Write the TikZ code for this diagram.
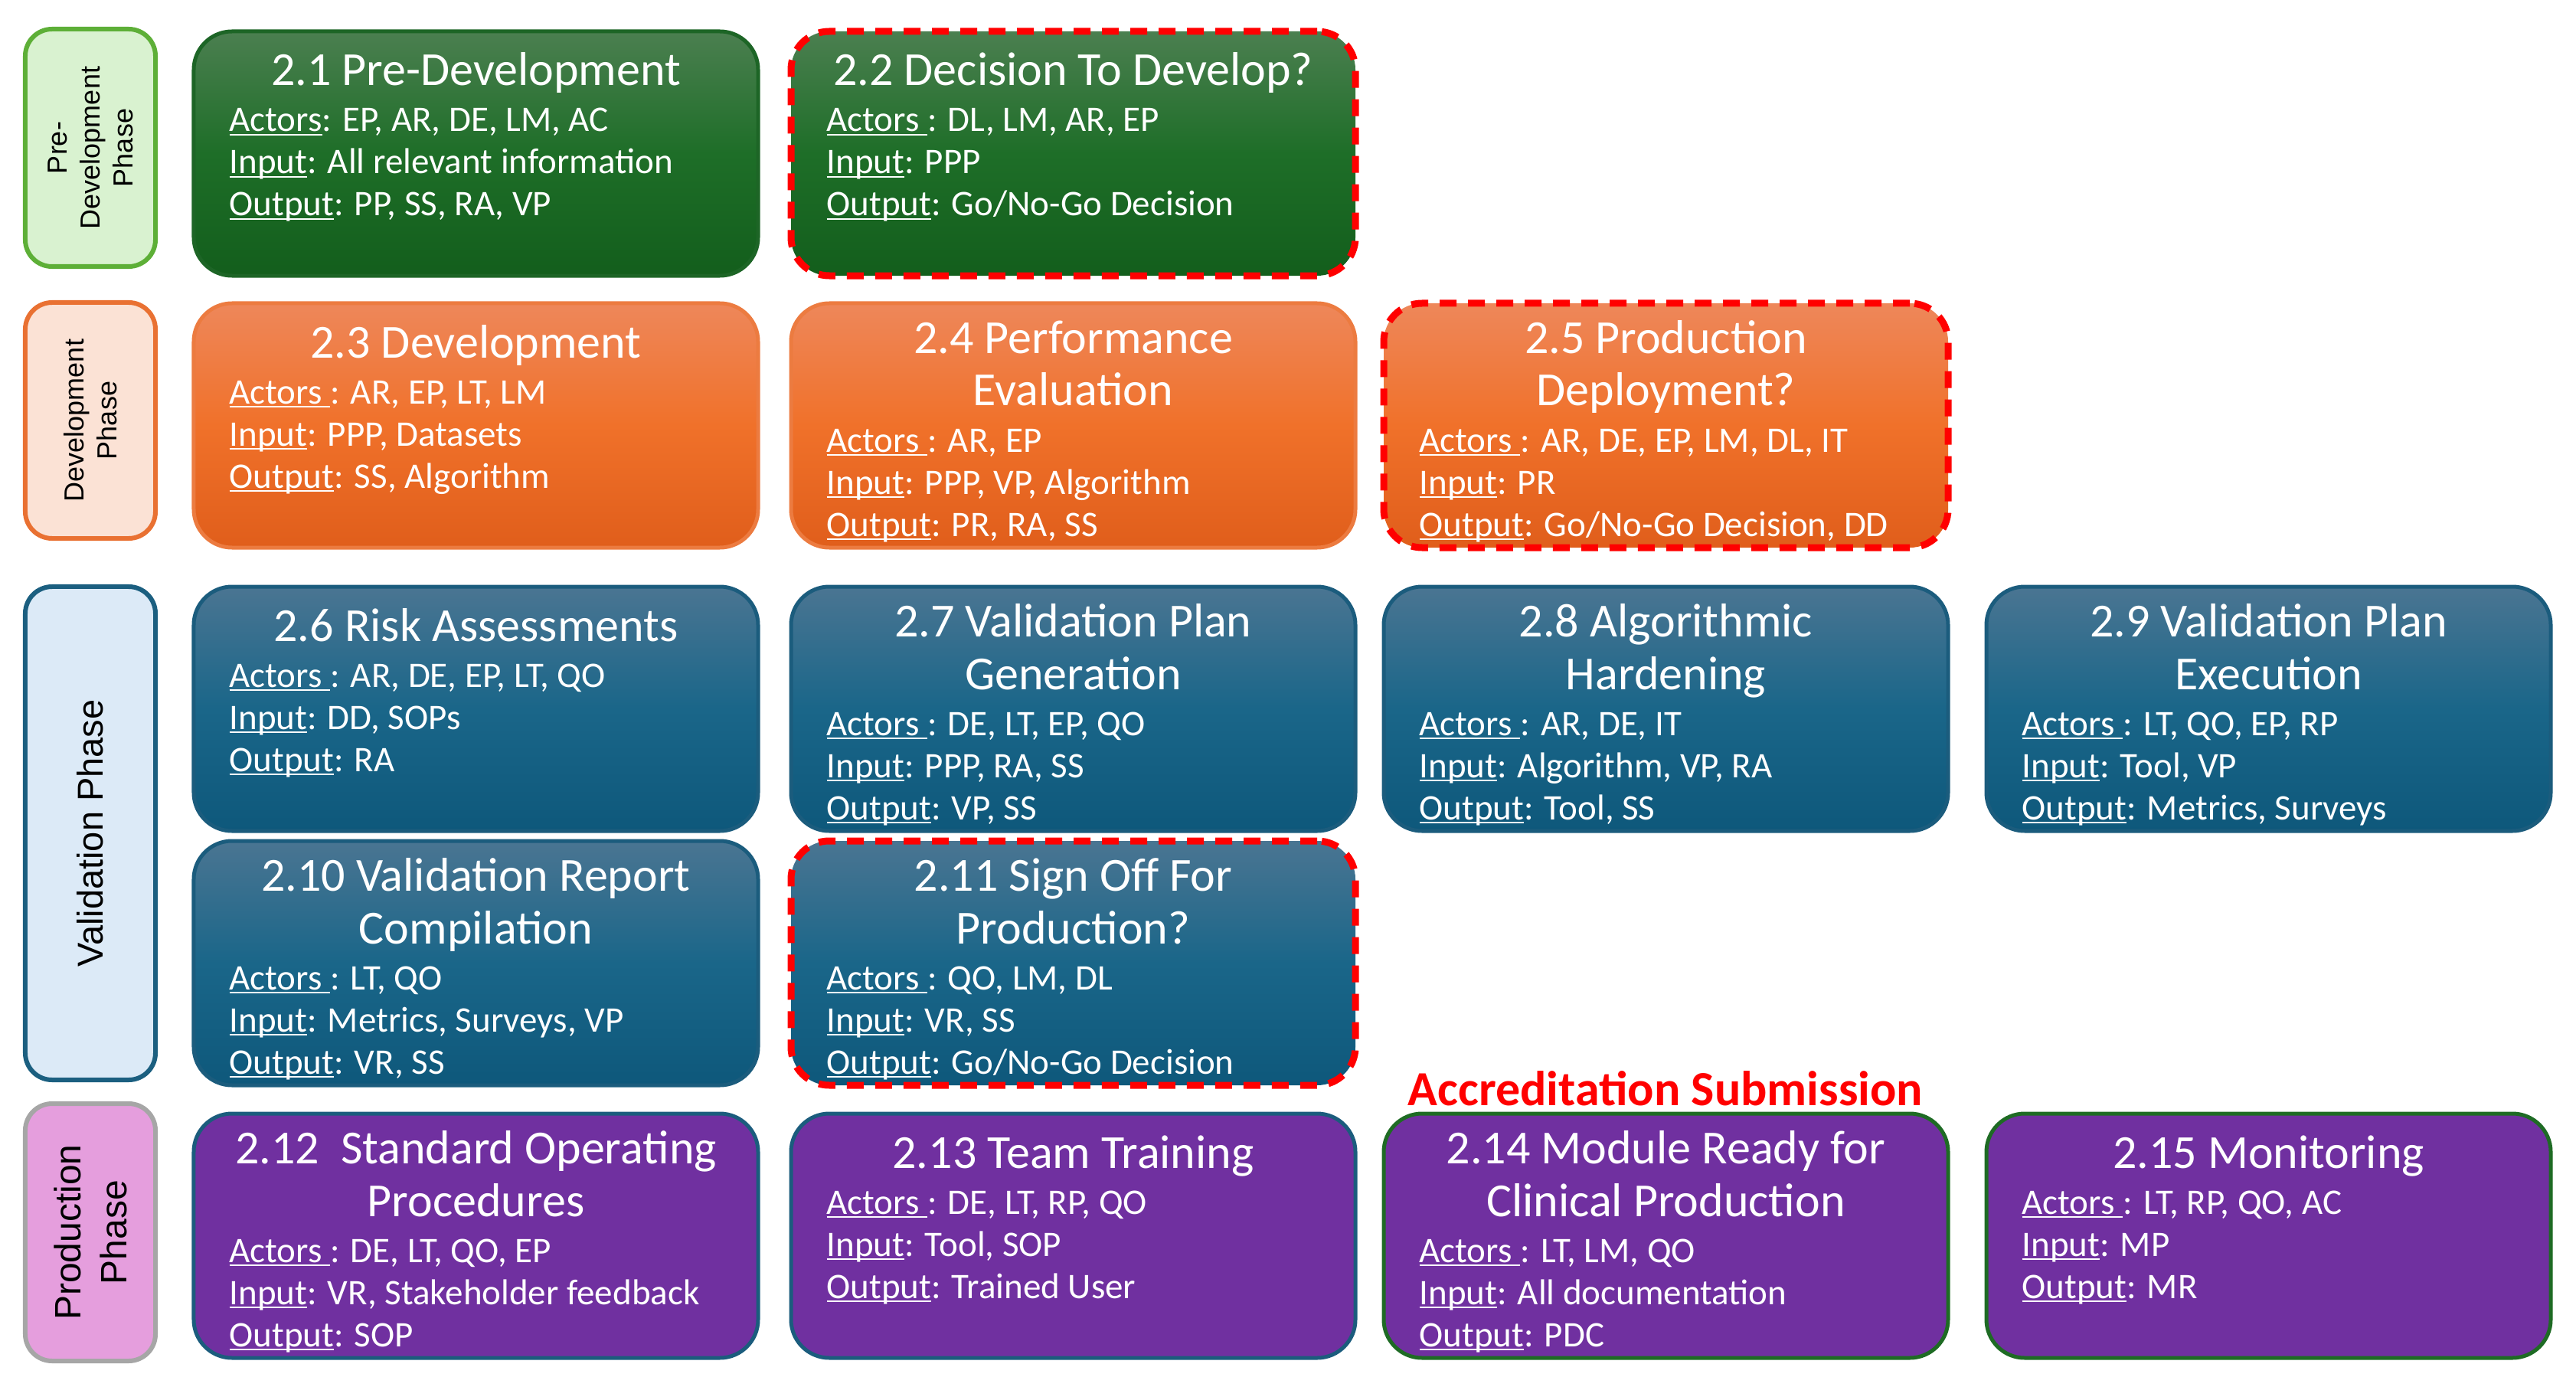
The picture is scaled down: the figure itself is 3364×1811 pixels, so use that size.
\documentclass[tikz,border=0pt]{standalone}
\usepackage{fontspec}
\setmainfont{Carlito}
\newfontfamily\phasefont{Liberation Sans}
\newsavebox\ulbox
\newcommand\myul[1]{\sbox\ulbox{#1}\rlap{\rule[-0.11em]{\wd\ulbox}{0.05em}}\usebox\ulbox}
\definecolor{gtop}{HTML}{4B7F50}
\definecolor{gmid}{HTML}{1E6E28}
\definecolor{gbot}{HTML}{135E1C}
\definecolor{gline}{HTML}{1D6526}
\definecolor{otop}{HTML}{EE875A}
\definecolor{omid}{HTML}{F0712A}
\definecolor{obot}{HTML}{E05E1B}
\definecolor{oline}{HTML}{EC7B40}
\definecolor{btop}{HTML}{4A7592}
\definecolor{bmid}{HTML}{1A6689}
\definecolor{bbot}{HTML}{0E587B}
\definecolor{bline}{HTML}{1B5C7D}
\definecolor{purp}{HTML}{7030A0}
\definecolor{pgline}{HTML}{1E6B24}
\definecolor{prefill}{HTML}{D9F2D0}
\definecolor{preline}{HTML}{5DAF37}
\definecolor{devfill}{HTML}{FBE2D5}
\definecolor{devline}{HTML}{E97132}
\definecolor{valfill}{HTML}{DCEAF7}
\definecolor{valline}{HTML}{1B5F80}
\definecolor{prodfill}{HTML}{E59EDD}
\definecolor{prodline}{HTML}{A6A6A6}
\tikzset{
  task/.style={rounded corners=20pt, minimum width=294.8pt, minimum height=127.6pt,
    line width=2pt, inner sep=0pt, outer sep=0pt},
  greenbox/.style={task, draw=gline, top color=gtop, bottom color=gbot, middle color=gmid},
  orangebox/.style={task, draw=oline, top color=otop, bottom color=obot, middle color=omid},
  bluebox/.style={task, draw=bline, top color=btop, bottom color=bbot, middle color=bmid},
  purpbox/.style={task, draw=bline, fill=purp},
  purpgbox/.style={task, draw=pgline, fill=purp},
  decision/.style={draw=red, dash pattern=on 8.8pt off 6pt, line width=3.6pt},
  phasebox/.style={rounded corners=14pt, minimum width=68pt, line width=2.4pt,
    inner sep=0pt, outer sep=0pt},
  phasetext/.style={rotate=90, align=center, text=black, inner sep=0pt},
  ttl/.style={text=white, font=\fontsize{24.8}{28}\selectfont, inner sep=0pt},
  bdy/.style={anchor=base west, text=white, font=\fontsize{18.8}{22}\selectfont, inner sep=0pt},
}
\newcommand\taskbox[9]{%
  \node[#2] (#1) at ({#3+368.5},{#4+159.5}) {};
  \if\relax\detokenize{#6}\relax
    \node[ttl, anchor=base] (#1-t) at ({#3+368.5},{#4+71}) {#5};
    \def\bodyy{131}%
  \else
    \node[ttl, anchor=base] (#1-t) at ({#3+368.5},{#4+65}) {#5};
    \node[ttl, anchor=base] (#1-t2) at ({#3+368.5},{#4+134}) {#6};
    \def\bodyy{194}%
  \fi
  \node[bdy] (#1-a) at ({#3+46},{#4+\bodyy}) {#7};
  \node[bdy] (#1-i) at ({#3+46},{#4+\bodyy+55}) {\myul{Input}: #8};
  \node[bdy] (#1-o) at ({#3+46},{#4+\bodyy+110}) {\myul{Output}: #9};
}
\begin{document}
\begin{tikzpicture}[x=0.4pt, y=-0.4pt]
\useasboundingbox (0,0) rectangle (3364,1811);
% phase boxes
\node[phasebox, draw=preline, fill=prefill, minimum height=124pt] (pre) at (118,193) {};
\node[phasetext, font=\phasefont\fontsize{14.4}{17.2}\selectfont] (pre-l) at (pre.center) {Pre-\\Development\\Phase};
\node[phasebox, draw=devline, fill=devfill, minimum height=123.2pt] (dev) at (118,549) {};
\node[phasetext, font=\phasefont\fontsize{14.4}{17.2}\selectfont] (dev-l) at (dev.center) {Development\\Phase};
\node[phasebox, draw=valline, fill=valfill, minimum height=257.6pt] (val) at (118,1088) {};
\node[phasetext, font=\phasefont\fontsize{18.8}{22}\selectfont] (val-l) at (val.center) {Validation Phase};
\node[phasebox, draw=prodline, fill=prodfill, minimum height=134.4pt] (prod) at (118,1609) {};
\node[phasetext, font=\phasefont\fontsize{19.2}{24}\selectfont] (prod-l) at (prod.center) {Production\\Phase};
% row 1
\taskbox{t21}{greenbox}{253}{41}{2.1 Pre-Development}{}{\myul{Actors}: EP, AR, DE, LM, AC}{All relevant information}{PP, SS, RA, VP}
\taskbox{t22}{greenbox, decision}{1033}{41}{2.2 Decision To Develop?}{}{\myul{Actors }: DL, LM, AR, EP}{PPP}{Go/No-Go Decision}
% row 2
\taskbox{t23}{orangebox}{253}{396}{2.3 Development}{}{\myul{Actors }: AR, EP, LT, LM}{PPP, Datasets}{SS, Algorithm}
\taskbox{t24}{orangebox}{1033}{396}{2.4 Performance}{Evaluation}{\myul{Actors }: AR, EP}{PPP, VP, Algorithm}{PR, RA, SS}
\taskbox{t25}{orangebox, decision}{1807}{396}{2.5 Production}{Deployment?}{\myul{Actors }: AR, DE, EP, LM, DL, IT}{PR}{Go/No-Go Decision, DD}
% row 3
\taskbox{t26}{bluebox}{253}{766}{2.6 Risk Assessments}{}{\myul{Actors }: AR, DE, EP, LT, QO}{DD, SOPs}{RA}
\taskbox{t27}{bluebox}{1033}{766}{2.7 Validation Plan}{Generation}{\myul{Actors }: DE, LT, EP, QO}{PPP, RA, SS}{VP, SS}
\taskbox{t28}{bluebox}{1807}{766}{2.8 Algorithmic}{Hardening}{\myul{Actors }: AR, DE, IT}{Algorithm, VP, RA}{Tool, SS}
\taskbox{t29}{bluebox}{2594}{766}{2.9 Validation Plan}{Execution}{\myul{Actors }: LT, QO, EP, RP}{Tool, VP}{Metrics, Surveys}
% row 4
\taskbox{t210}{bluebox}{253}{1098}{2.10 Validation Report}{Compilation}{\myul{Actors }: LT, QO}{Metrics, Surveys, VP}{VR, SS}
\taskbox{t211}{bluebox, decision}{1033}{1098}{2.11 Sign Off For}{Production?}{\myul{Actors }: QO, LM, DL}{VR, SS}{Go/No-Go Decision}
% row 5
\taskbox{t212}{purpbox}{253}{1454}{2.12\ \ Standard Operating}{Procedures}{\myul{Actors }: DE, LT, QO, EP}{VR, Stakeholder feedback}{SOP}
\taskbox{t213}{purpbox}{1033}{1454}{2.13 Team Training}{}{\myul{Actors }: DE, LT, RP, QO}{Tool, SOP}{Trained User}
\taskbox{t214}{purpgbox}{1807}{1454}{2.14 Module Ready for}{Clinical Production}{\myul{Actors }: LT, LM, QO}{All documentation}{PDC}
\taskbox{t215}{purpgbox}{2594}{1454}{2.15 Monitoring}{}{\myul{Actors }: LT, RP, QO, AC}{MP}{MR}
\node[font=\bfseries\fontsize{25.6}{30}\selectfont, text=red, anchor=base, inner sep=0pt] (acc) at (2175,1443) {Accreditation Submission};
\end{tikzpicture}
\end{document}
